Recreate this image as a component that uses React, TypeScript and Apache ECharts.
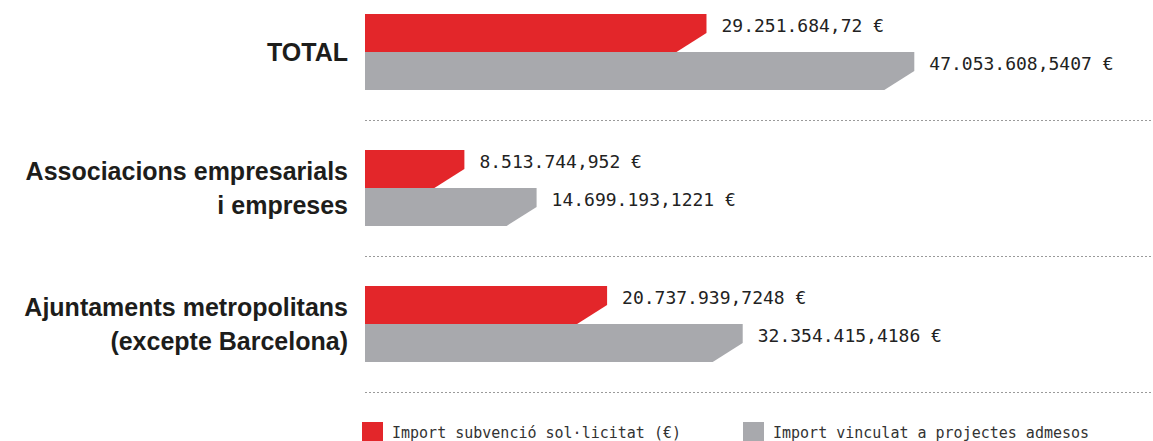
import React, { useEffect, useRef } from "react";
import * as echarts from "echarts";

const categories = [
  "TOTAL",
  "Associacions empresarials\ni empreses",
  "Ajuntaments metropolitans\n(excepte Barcelona)",
];
const seriesNames = [
  "Import subvenció sol·licitat (€)",
  "Import vinculat a projectes admesos",
];
const requestedValues = [29251684.72, 8513744.952, 20737939.7248];
const linkedValues = [47053608.5407, 14699193.1221, 32354415.4186];

const RED = "#E3262A";
const GREY = "#A8A9AD";

function formatEuro(v: number): string {
  const [intPart, dec] = String(v).split(".");
  const grouped = intPart.replace(/\B(?=(\d{3})+(?!\d))/g, ".");
  return (dec ? grouped + "," + dec : grouped) + " €";
}

const makeRender = (slot: number, color: string) => (_params: any, api: any) => {
  const v = api.value(0);
  const c = api.value(1);
  const p0 = api.coord([0, c]);
  const p1 = api.coord([v, c]);
  const h = 38;
  const top = p0[1] - h + slot * h;
  const x0 = p0[0];
  const x1 = p1[0];
  const dx = 30;
  const dy = 19;
  return {
    type: "group",
    children: [
      {
        type: "polygon",
        shape: {
          points: [
            [x0, top],
            [x1, top],
            [x1, top + h - dy],
            [x1 - dx, top + h],
            [x0, top + h],
          ],
        },
        style: { fill: color },
      },
      {
        type: "text",
        x: x1 + 15,
        y: top + 11,
        style: {
          text: formatEuro(v),
          fill: "#222222",
          fontSize: 18,
          fontFamily: "'DejaVu Sans Mono', monospace",
          verticalAlign: "middle",
          align: "left",
        },
      },
    ],
  };
};

export default function App() {
  const ref = useRef<HTMLDivElement>(null);
  useEffect(() => {
    document.body.style.margin = "0";
    if (!ref.current) return;
    const chart = echarts.init(ref.current, undefined, { renderer: "svg" });
    const legendText = {
      fontSize: 15,
      fontFamily: "'DejaVu Sans Mono', monospace",
      color: "#333333",
      padding: [0, 0, 0, 4],
    };
    chart.setOption({
      animation: false,
      backgroundColor: "#ffffff",
      grid: {
        left: 365,
        right: 0,
        top: -16,
        height: 408,
        outerBoundsMode: "none",
        containLabel: false,
      },
      xAxis: {
        type: "value",
        min: 0,
        max: 67500000,
        show: false,
      },
      yAxis: {
        type: "category",
        inverse: true,
        data: categories,
        axisLine: { show: false },
        axisTick: { show: false },
        axisLabel: {
          fontSize: 25,
          fontWeight: "bold",
          fontFamily: "'Liberation Sans', Arial, sans-serif",
          color: "#1d1d1b",
          lineHeight: 34,
          margin: 17,
          align: "right",
        },
        splitLine: {
          show: true,
          lineStyle: { color: "#9a9a9a", type: [2, 2], width: 1 },
        },
      },
      legend: [
        {
          left: 362,
          top: 422,
          padding: 0,
          itemWidth: 21,
          itemHeight: 21,
          icon: "rect",
          data: [seriesNames[0]],
          textStyle: legendText,
        },
        {
          left: 743,
          top: 422,
          padding: 0,
          itemWidth: 21,
          itemHeight: 21,
          icon: "rect",
          data: [seriesNames[1]],
          textStyle: legendText,
        },
      ],
      series: [
        {
          name: seriesNames[0],
          type: "custom",
          renderItem: makeRender(0, RED),
          itemStyle: { color: RED },
          encode: { x: 0, y: 1 },
          clip: false,
          data: requestedValues.map((v, i) => [v, i]),
        },
        {
          name: seriesNames[1],
          type: "custom",
          renderItem: makeRender(1, GREY),
          itemStyle: { color: GREY },
          encode: { x: 0, y: 1 },
          clip: false,
          data: linkedValues.map((v, i) => [v, i]),
        },
      ],
    });
    return () => chart.dispose();
  }, []);
  return <div ref={ref} style={{ width: 1153, height: 441 }} />;
}
